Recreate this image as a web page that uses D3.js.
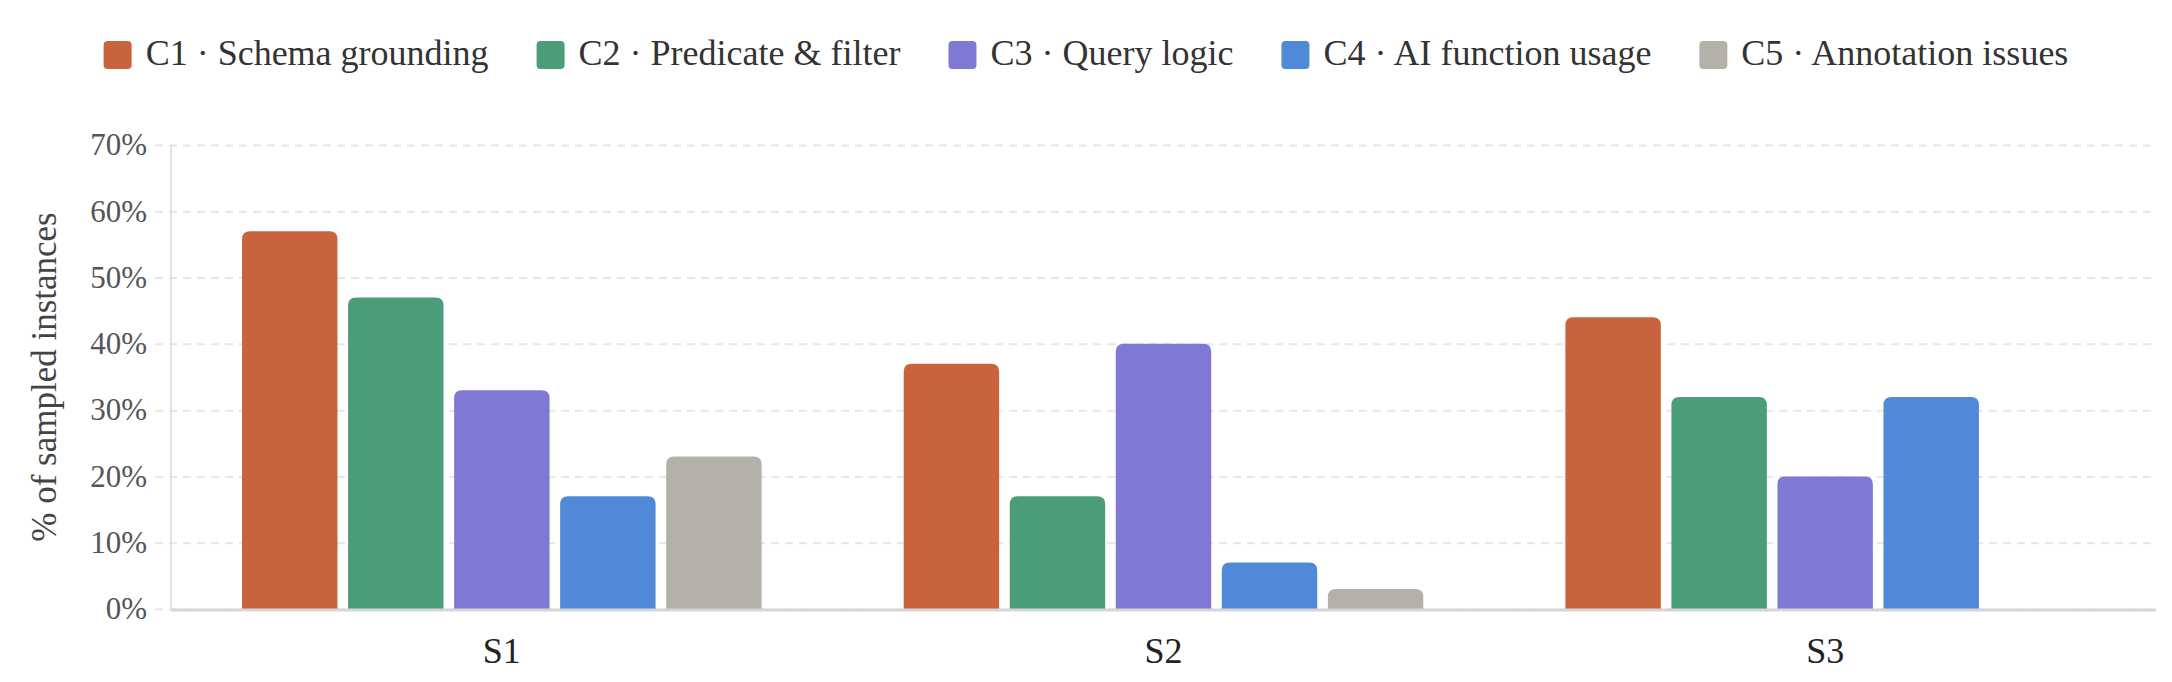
<!DOCTYPE html>
<html>
<head>
<meta charset="utf-8">
<title>Error categories by setting</title>
<script src="https://cdn.jsdelivr.net/npm/d3@7"></script>
<style>
    html, body { margin: 0; padding: 0; background: #fff; }
    #chart { width: 2172px; height: 682px; }
    text { font-family: "Palatino Linotype", "Book Antiqua", Palatino, "Liberation Serif", serif; }
</style>
</head>
<body>
<div id="chart"></div>
<script>
// Data
const settings = ['S1', 'S2', 'S3'];
const categories = ['C1', 'C2', 'C3', 'C4', 'C5'];
const categoryLabels = [
    'C1 · Schema grounding',
    'C2 · Predicate & filter',
    'C3 · Query logic',
    'C4 · AI function usage',
    'C5 · Annotation issues'
];
const colors = ['#c8633e', '#4b9c79', '#7f79d5', '#4f89d8', '#b4b1aa'];

// % of sampled instances, one array per setting (order C1..C5)
const s1Values = [57, 47, 33, 17, 23];
const s2Values = [37, 17, 40, 7, 3];
const s3Values = [44, 32, 20, 32, 0];

const yTicks = [0, 10, 20, 30, 40, 50, 60, 70];

const seriesBySetting = [s1Values, s2Values, s3Values];

const width = 2172;
const height = 682;
const margin = { top: 145, right: 16, bottom: 73, left: 171 };

const svg = d3.select('#chart')
    .append('svg')
    .attr('width', width)
    .attr('height', height);

// Scales
const x0 = d3.scaleBand()
    .domain(settings)
    .range([margin.left, width - margin.right])
    .padding(0);

const x1 = d3.scaleBand()
    .domain(categories)
    .range([0, x0.bandwidth()])
    .paddingInner(0.1)
    .paddingOuter(0.67);

const y = d3.scaleLinear()
    .domain([0, 70])
    .range([height - margin.bottom, margin.top]);

// Gridlines (dashed), extend a bit left of the axis
const grid = svg.append('g')
    .attr('transform', `translate(${margin.left},0)`)
    .call(d3.axisLeft(y)
        .tickValues(yTicks)
        .tickSize(-(width - margin.left - margin.right))
        .tickFormat(''));
grid.select('.domain').remove();
grid.selectAll('.tick line')
    .attr('x1', -16)
    .attr('stroke', '#e6e6e6')
    .attr('stroke-width', 2)
    .attr('stroke-dasharray', '8,6');

// Y axis line
svg.append('line')
    .attr('x1', margin.left).attr('x2', margin.left)
    .attr('y1', y(70)).attr('y2', y(0) + 1)
    .attr('stroke', '#e2e2e2')
    .attr('stroke-width', 2);

// Y tick labels
svg.append('g')
    .selectAll('text')
    .data(yTicks)
    .join('text')
    .attr('x', margin.left - 24)
    .attr('y', d => y(d))
    .attr('dy', '0.33em')
    .attr('text-anchor', 'end')
    .style('font-size', '31px')
    .style('fill', '#555')
    .text(d => d + '%');

// Bars - rounded top corners only
function barPath(x, yTop, w, yBase, r) {
    const h = yBase - yTop;
    const rr = Math.min(r, h, w / 2);
    return `M${x},${yBase}` +
        `V${yTop + rr}` +
        `Q${x},${yTop} ${x + rr},${yTop}` +
        `H${x + w - rr}` +
        `Q${x + w},${yTop} ${x + w},${yTop + rr}` +
        `V${yBase}Z`;
}

const groups = svg.append('g')
    .selectAll('g')
    .data(settings)
    .join('g')
    .attr('transform', d => `translate(${x0(d)},0)`);

groups.selectAll('path')
    .data((d, i) => categories.map((c, j) => ({ cat: c, value: seriesBySetting[i][j], color: colors[j] })))
    .join('path')
    .filter(d => d.value > 0)
    .attr('d', d => barPath(x1(d.cat), y(d.value), x1.bandwidth(), y(0), 8))
    .attr('fill', d => d.color);

// Baseline
svg.append('line')
    .attr('x1', margin.left).attr('x2', width - margin.right)
    .attr('y1', y(0) + 1).attr('y2', y(0) + 1)
    .attr('stroke', '#d6d6d6')
    .attr('stroke-width', 3);

// X labels
svg.append('g')
    .selectAll('text')
    .data(settings)
    .join('text')
    .attr('x', d => x0(d) + x0.bandwidth() / 2)
    .attr('y', 663)
    .attr('text-anchor', 'middle')
    .style('font-size', '36px')
    .style('fill', '#222')
    .text(d => d);

// Y axis title
svg.append('text')
    .attr('transform', `translate(56,${(y(0) + y(70)) / 2}) rotate(-90)`)
    .attr('text-anchor', 'middle')
    .style('font-size', '35px')
    .style('fill', '#444')
    .text('% of sampled instances');

// Legend - centered across the top
const legend = svg.append('g');
const swatch = 28, swatchGap = 14, itemGap = 48;
const items = legend.selectAll('g')
    .data(categoryLabels)
    .join('g');

items.append('rect')
    .attr('width', swatch)
    .attr('height', swatch)
    .attr('rx', 4)
    .attr('y', 41)
    .attr('fill', (d, i) => colors[i]);

items.append('text')
    .attr('x', swatch + swatchGap)
    .attr('y', 65)
    .style('font-size', '36px')
    .style('fill', '#333')
    .text(d => d);

let cursor = 0;
items.each(function () {
    const w = swatch + swatchGap + d3.select(this).select('text').node().getComputedTextLength();
    d3.select(this).attr('transform', `translate(${cursor},0)`);
    cursor += w + itemGap;
});
const legendWidth = cursor - itemGap;
legend.attr('transform', `translate(${(width - legendWidth) / 2},0)`);
</script>
</body>
</html>
